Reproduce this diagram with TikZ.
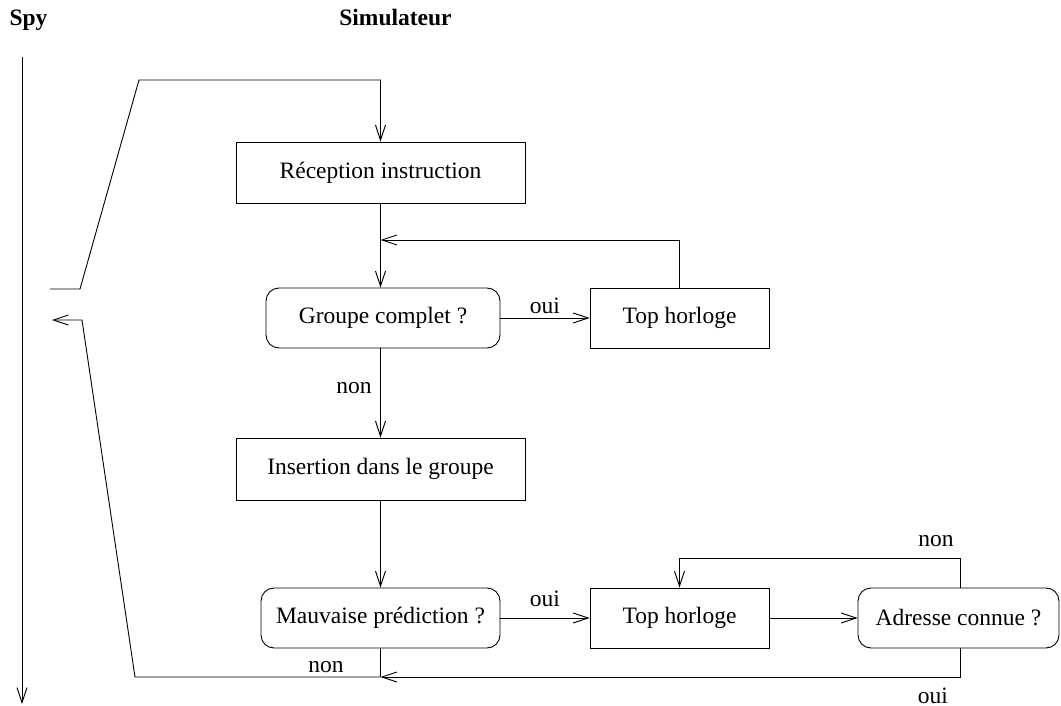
\documentclass[tikz,border=0pt]{standalone}
\usepackage{fontspec}
\setmainfont{Liberation Serif}
\usetikzlibrary{arrows.meta}
\begin{document}
\begin{tikzpicture}[x=1pt,y=-1pt,
  font=\fontsize{23.5}{28}\selectfont,
  line width=0.9pt,
  flow/.style={-{Straight Barb[length=15pt,width=10pt]}},
  stepbox/.style={draw, minimum width=289pt, minimum height=61pt, inner sep=0pt},
  clockbox/.style={draw, minimum width=179pt, minimum height=60pt, inner sep=0pt},
  testbox/.style={draw, rounded corners=13pt, minimum height=60pt, inner sep=0pt},
  lbl/.style={anchor=base, inner sep=0pt},
  head/.style={anchor=base, inner sep=0pt, font=\fontsize{23.5}{28}\selectfont\bfseries}]
\useasboundingbox (0,0) rectangle (1061,706);

% column headings
\node[head] (hspy) at (28.5,26) {Spy};
\node[head] (hsim) at (395.5,26) {Simulateur};

% time axis of the spy
\coordinate (axtop) at (22,57);
\coordinate (axbot) at (22,704);
\draw[flow] (axtop) -- (axbot);

% flow boxes
\node[stepbox] (recep) at (380.5,172.5) {Réception instruction};
\node[testbox, minimum width=234pt] (groupe) at (383,318) {Groupe complet ?};
\node[clockbox] (top1) at (679.5,318) {Top horloge};
\node[stepbox, minimum height=62pt] (insert) at (380.5,469) {Insertion dans le groupe};
\node[testbox, minimum width=239pt] (mauv) at (380.5,618) {Mauvaise prédiction ?};
\node[clockbox] (top2) at (679.5,618) {Top horloge};
\node[testbox, minimum width=201pt] (adr) at (958.5,618) {Adresse connue ?};

% instruction sent by the spy
\coordinate (out1) at (50,289);
\coordinate (out2) at (80,289);
\coordinate (out3) at (139,80);
\draw[flow] (out1) -- (out2) -- (out3) -| (recep.north);

% group loop
\draw[flow] (recep.south) -- (recep.south |- groupe.north);
\coordinate (fb) at (380.5,240);
\draw[flow] (top1.north) |- (fb);
\draw[flow] (groupe.east) -- (top1.west);
\node[lbl] (oui1) at (545,313) {oui};
\draw[flow] (insert.north |- groupe.south) -- (insert.north);
\node[lbl] (non1) at (354,393) {non};

% prediction check
\draw[flow] (insert.south) -- (mauv.north);
\draw[flow] (mauv.east) -- (top2.west);
\node[lbl] (oui2) at (545,606) {oui};
\draw[flow] (top2.east) -- (adr.west);
\coordinate (loop) at (960,558);
\draw[flow] (adr.north -| loop) -- (loop) -| (top2.north);
\node[lbl] (non2) at (936,546) {non};

% return to the spy
\coordinate (join) at (380.5,677);
\draw[flow] (adr.south -| loop) |- (join);
\node[lbl] (oui3) at (933,703) {oui};
\draw (mauv.south) -- (join);
\node[lbl] (non3) at (326,672) {non};
\coordinate (ret1) at (135,677);
\coordinate (ret2) at (82,320);
\coordinate (ret3) at (52,320);
\draw[flow] (join) -- (ret1) -- (ret2) -- (ret3);
\end{tikzpicture}
\end{document}
